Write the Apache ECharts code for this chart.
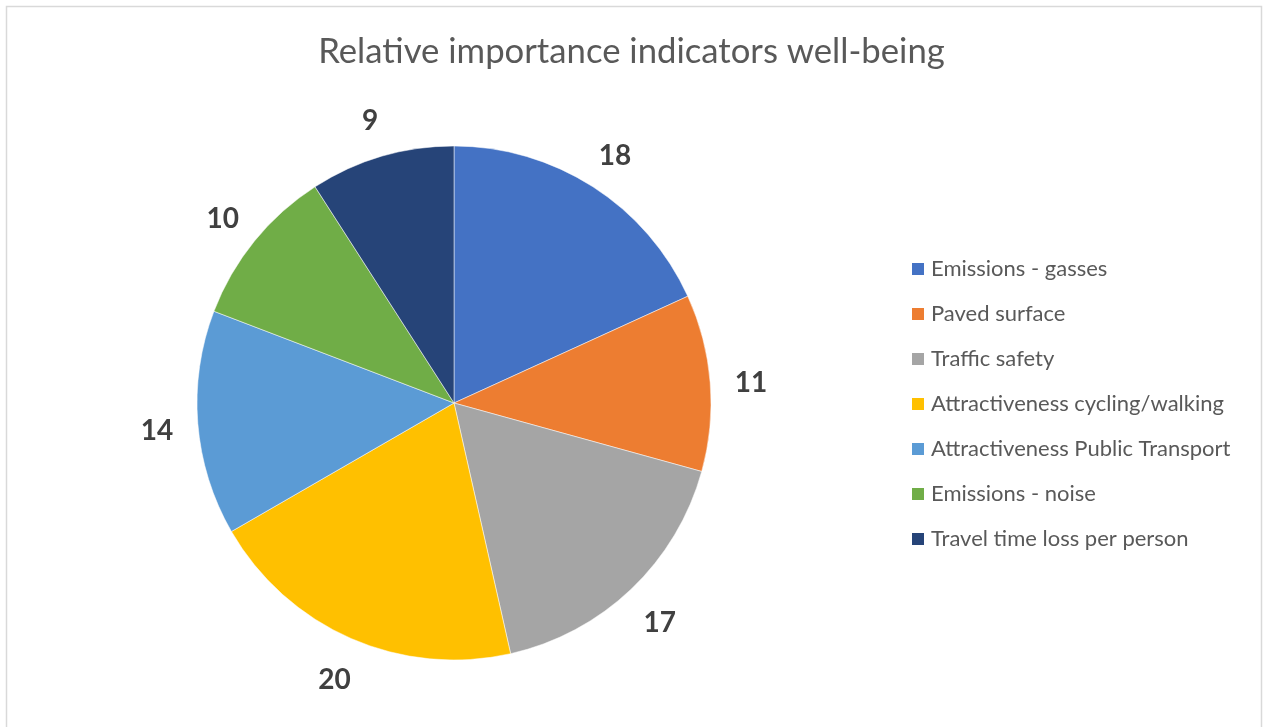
<!DOCTYPE html>
<html>
<head>
<meta charset="utf-8">
<title>Relative importance indicators well-being</title>
<script src="https://cdn.jsdelivr.net/npm/echarts@6/dist/echarts.min.js"></script>
<style>
  html, body { margin: 0; padding: 0; background: #ffffff; }
  #chart { width: 1263px; height: 727px; }
</style>
</head>
<body>
<div id="chart"></div>
<script>
// Indicator names and their relative importance scores
const categories = [
  'Emissions - gasses',
  'Paved surface',
  'Traffic safety',
  'Attractiveness cycling/walking',
  'Attractiveness Public Transport',
  'Emissions - noise',
  'Travel time loss per person'
];
const values = [18, 11, 17, 20, 14, 10, 9];
const colors = ['#4472C4', '#ED7D31', '#A5A5A5', '#FFC000', '#5B9BD5', '#70AD47', '#264478'];

const FONT = 'Lato, "Open Sans", sans-serif';
const CENTER = [454, 403];

const sliceData = categories.map((name, i) => ({
  name: name,
  value: values[i],
  itemStyle: { color: colors[i] }
}));

// Transparent ring just outside the pie that carries the value labels
const labelData = categories.map((name, i) => ({
  name: name,
  value: values[i],
  itemStyle: { color: 'rgba(0,0,0,0)' }
}));

const chart = echarts.init(document.getElementById('chart'), null, { renderer: 'canvas' });

chart.setOption({
  backgroundColor: '#ffffff',
  animation: false,
  title: {
    text: 'Relative importance indicators well-being',
    left: 'center',
    top: 29,
    padding: [5, 5, 5, 13],
    textStyle: { fontFamily: FONT, fontSize: 34.7, fontWeight: 'normal', color: '#595959' }
  },
  legend: {
    orient: 'vertical',
    left: 910,
    top: 258,
    padding: 0,
    icon: 'rect',
    itemWidth: 14,
    itemHeight: 14,
    itemGap: 23,
    data: categories,
    selectedMode: false,
    textStyle: { fontFamily: FONT, fontSize: 22, lineHeight: 22, color: '#595959', padding: [0, 0, 0, 1] }
  },
  graphic: [{
    type: 'rect',
    shape: { x: 6.5, y: 6.5, width: 1255, height: 780 },
    style: { fill: 'none', stroke: '#d9d9d9', lineWidth: 1.5 },
    silent: true
  }],
  series: [
    {
      name: 'Slices',
      type: 'pie',
      center: CENTER,
      radius: [0, 257],
      startAngle: 90,
      clockwise: true,
      avoidLabelOverlap: false,
      label: { show: false },
      labelLine: { show: false },
      itemStyle: { borderColor: '#ffffff', borderWidth: 0.5 },
      emphasis: { disabled: true },
      data: sliceData
    },
    {
      name: 'Values',
      type: 'pie',
      center: CENTER,
      radius: [282, 308],
      startAngle: 90,
      clockwise: true,
      silent: true,
      avoidLabelOverlap: false,
      legendHoverLink: false,
      label: {
        show: true,
        position: 'inside',
        formatter: '{c}',
        fontFamily: FONT,
        fontSize: 28,
        fontWeight: 'bold',
        color: '#404040',
        offset: [0, 4]
      },
      labelLine: { show: false },
      emphasis: { disabled: true },
      data: labelData
    }
  ]
});
</script>
</body>
</html>
